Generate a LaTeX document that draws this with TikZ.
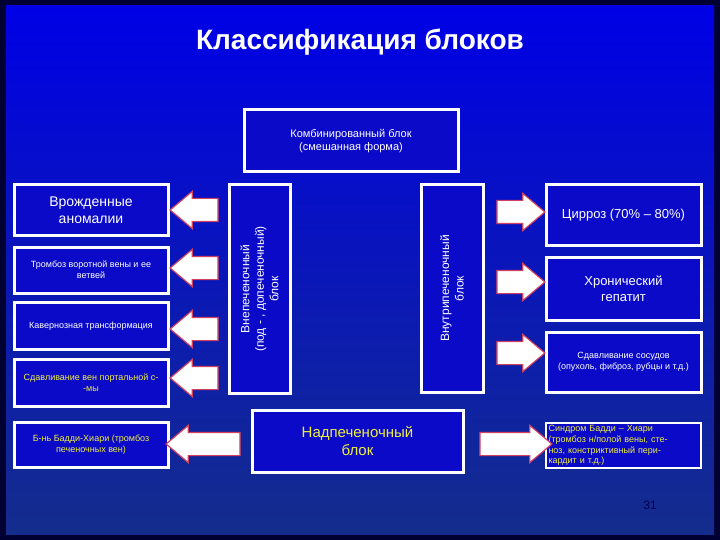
\documentclass[tikz,border=0pt]{standalone}
\usepackage{fontspec}
\setmainfont{Liberation Sans}
\usetikzlibrary{shapes.arrows}
\definecolor{boxblue}{HTML}{0A0AC8}
\definecolor{ylw}{HTML}{F0F040}
\definecolor{arrowred}{HTML}{D04060}
\begin{document}
\begin{tikzpicture}[x=1pt,y=-1pt,
  box/.style={draw=white,line width=3pt,fill=boxblue,text=white,align=center,inner sep=2pt},
  barrow/.style={single arrow,draw=arrowred,line width=1.2pt,fill=white,inner xsep=0pt,inner ysep=11pt,single arrow head extend=7pt,single arrow tip angle=80},
  fs/.style={font=\fontsize{#1}{\dimexpr #1pt*6/5\relax}\selectfont}]
\useasboundingbox (0,0) rectangle (720,540);
\fill[black!80!blue] (0,0) rectangle (720,540);
\shade[top color=blue!90!black, bottom color={rgb,255:red,20;green,45;blue,140}] (6,6) rectangle (714,534);
% title
\node (title) [text=white,font=\fontsize{28}{30}\selectfont\bfseries] at (360,42) {Классификация блоков};
% combined
\node (comb) [box,fs=11,minimum width=214pt,minimum height=62pt] at (351,141) {Комбинированный блок\\(смешанная форма)};
% left boxes
\node (l1) [box,fs=14,minimum width=154pt,minimum height=51pt] at (91,210) {Врожденные\\аномалии};
\node (l2) [box,fs=9,minimum width=154pt,minimum height=46pt] at (91,270) {Тромбоз воротной вены и ее\\ветвей};
\node (l3) [box,fs=9,minimum width=154pt,minimum height=47pt] at (91,326) {Кавернозная трансформация};
\node (l4) [box,fs=9,text=ylw,minimum width=154pt,minimum height=47pt] at (91,383) {Сдавливание вен портальной с-\\-мы};
\node (l5) [box,fs=9,text=ylw,minimum width=154pt,minimum height=45pt] at (91,445) {Б-нь Бадди-Хиари (тромбоз\\печеночных вен)};
% vertical blocks
\node (vl) [box,minimum width=61pt,minimum height=208pt] at (259.5,289) {};
\node[rotate=90,text=white,align=center,fs=12] at (vl) {Внепеченочный\\(под - , допеченочный)\\блок};
\node (vr) [box,minimum width=62pt,minimum height=207pt] at (452,288.5) {};
\node[rotate=90,text=white,align=center,fs=12] at (vr) {Внутрипеченочный\\блок};
% right boxes
\node (r1) [box,fs=13,minimum width=155pt,minimum height=60pt] at (623.5,215) {Цирроз (70\% -- 80\%)};
\node (r2) [box,fs=13,minimum width=155pt,minimum height=63pt] at (623.5,288.5) {Хронический\\гепатит};
\node (r3) [box,fs=9,minimum width=155pt,minimum height=60pt] at (623.5,362) {Сдавливание сосудов\\(опухоль, фиброз, рубцы и т.д.)};
\node (r4) [draw=white,line width=1.5pt,fill=boxblue,text=ylw,fs=9,align=left,text width=150pt,minimum width=155pt,minimum height=45pt,inner sep=2pt] at (623.5,445.5) {Синдром Бадди -- Хиари\\(тромбоз н/полой вены, сте-\\ноз, констриктивный пери-\\кардит и т.д.)};
% supra
\node (sup) [box,fs=15,text=ylw,minimum width=211pt,minimum height=62pt] at (357.5,441) {Надпеченочный\\блок};
% arrows
\foreach \y/\n in {210/a1,268/a2,329/a3,378/a4}
  \node (\n) [barrow,shape border rotate=180,minimum height=48pt] at (201,\y) {};
\node (a5) [barrow,shape border rotate=180,minimum height=74pt] at (210,444) {};
\foreach \y/\n in {212/b1,282/b2,353/b3}
  \node (\n) [barrow,minimum height=48pt] at (514,\y) {};
\node (b4) [barrow,minimum height=72pt] at (509,444) {};
\node (pg) [text=black!70!blue,fs=12] at (650,505) {31};
\end{tikzpicture}
\end{document}
